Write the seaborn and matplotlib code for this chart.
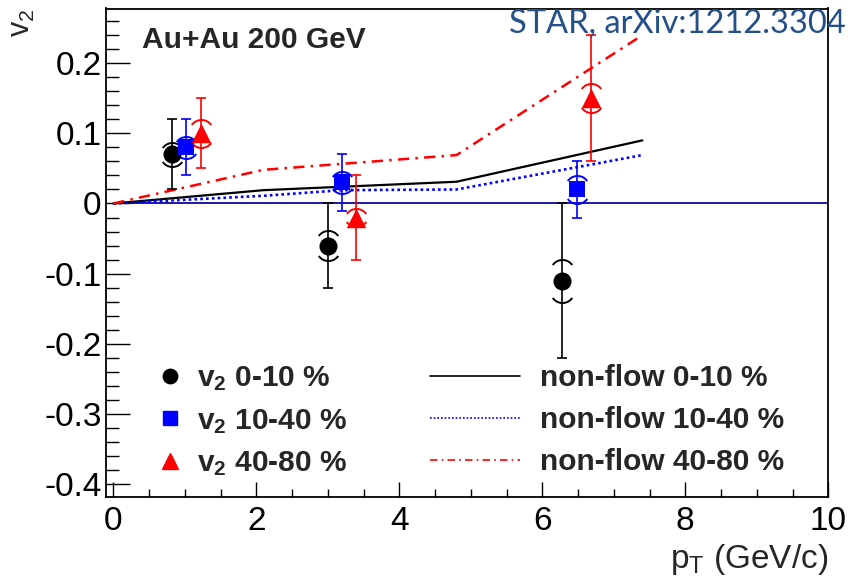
import numpy as np
import pandas as pd
import matplotlib
matplotlib.use("Agg")
import matplotlib.pyplot as plt
from matplotlib.path import Path
from matplotlib.lines import Line2D
from matplotlib.ticker import MultipleLocator
import seaborn as sns

# ---- v2 measurements, three centrality classes ----
pt_0_10 = [0.82, 3.00, 6.28]
v2_0_10 = [0.07, -0.06, -0.11]
stat_0_10 = [0.05, 0.06, 0.11]
sys_0_10 = [0.013, 0.018, 0.027]

pt_10_40 = [1.02, 3.20, 6.48]
v2_10_40 = [0.08, 0.03, 0.02]
stat_10_40 = [0.04, 0.04, 0.04]
sys_10_40 = [0.012, 0.012, 0.017]

pt_40_80 = [1.22, 3.40, 6.68]
v2_40_80 = [0.10, -0.02, 0.15]
stat_40_80 = [0.05, 0.06, 0.09]
sys_40_80 = [0.016, 0.009, 0.017]

# ---- non-flow estimates ----
nf_pt_0_10 = [0.0, 2.1, 4.8, 7.4]
nf_0_10 = [0.0, 0.019, 0.031, 0.090]
nf_pt_10_40 = [0.0, 2.1, 3.2, 4.8, 7.4]
nf_10_40 = [0.0, 0.011, 0.019, 0.020, 0.069]
nf_pt_40_80 = [0.0, 2.1, 4.8, 7.4]
nf_40_80 = [0.0, 0.048, 0.069, 0.240]

labels_v2 = [r"v$_\mathbf{2}$ 0-10 %", r"v$_\mathbf{2}$ 10-40 %", r"v$_\mathbf{2}$ 40-80 %"]
labels_nf = ["non-flow 0-10 %", "non-flow 10-40 %", "non-flow 40-80 %"]

sns.set_theme(style="ticks")
plt.rcParams["font.family"] = ["Liberation Sans", "DejaVu Sans"]
plt.rcParams["mathtext.fontset"] = "custom"
plt.rcParams["mathtext.rm"] = "Liberation Sans"
plt.rcParams["mathtext.it"] = "Liberation Sans:italic"
plt.rcParams["mathtext.bf"] = "Liberation Sans:bold"

W, H = 848, 580
fig = plt.figure(figsize=(W / 100, H / 100), dpi=100)
ax = fig.add_axes([105.7 / W, 1 - 496.7 / H, (828.3 - 105.7) / W, (496.7 - 8.5) / H])

colors = ["#000000", "#0000ff", "#ff0000"]
shapes = ["o", "s", "^"]
msizes = [13, 12, 14]

# systematic brackets: shallow arcs above and below each point
arc = Path.arc(35, 145)
av = arc.vertices.copy()
av[:, 1] -= (av[:, 1].max() + av[:, 1].min()) / 2
top_br = Path(av, arc.codes)
bot_br = Path(av * np.array([1, -1]), arc.codes)

# zero reference line
ax.hlines(0, 0, 10, color="#0a0a96", lw=1.3, zorder=1)

# non-flow curves
nf_style = [("-", 1.6), ((0, (1.0, 1.2)), 1.9), ((0, (4.5, 2.5, 1, 2.5)), 1.8)]
for x, y, c, (ls, lw) in zip([nf_pt_0_10, nf_pt_10_40, nf_pt_40_80],
                             [nf_0_10, nf_10_40, nf_40_80], colors, nf_style):
    sns.lineplot(x=x, y=y, ax=ax, color=c, lw=lw, linestyle=ls,
                 estimator=None, sort=False, zorder=2)

series = [
    (pt_0_10, v2_0_10, stat_0_10, sys_0_10),
    (pt_10_40, v2_10_40, stat_10_40, sys_10_40),
    (pt_40_80, v2_40_80, stat_40_80, sys_40_80),
]
for (x, y, e, s), c, m, ms in zip(series, colors, shapes, msizes):
    ax.errorbar(x, y, yerr=e, fmt="none", ecolor=c, elinewidth=1.2,
                capsize=3.6, capthick=1.2, zorder=3)
    ax.plot(x, np.add(y, s), ls="none", marker=top_br, ms=14, mfc="none",
            mec=c, mew=1.4, zorder=3)
    ax.plot(x, np.subtract(y, s), ls="none", marker=bot_br, ms=14, mfc="none",
            mec=c, mew=1.4, zorder=3)
    df = pd.DataFrame({"pt": x, "v2": y})
    sns.scatterplot(data=df, x="pt", y="v2", ax=ax, color=c, marker=m,
                    s=ms ** 2, edgecolor=c, linewidth=0, zorder=4, legend=False)

ax.set_xlim(-0.106, 10)
ax.set_ylim(-0.418, 0.278)
ax.xaxis.set_major_locator(MultipleLocator(2))
ax.xaxis.set_minor_locator(MultipleLocator(0.5))
ax.yaxis.set_major_locator(MultipleLocator(0.1))
ax.yaxis.set_minor_locator(MultipleLocator(0.02))
ax.yaxis.set_major_formatter(matplotlib.ticker.FuncFormatter(
    lambda v, p: "0" if abs(v) < 1e-9 else f"{v:.1f}"))
ax.tick_params(axis="both", which="both", direction="in", top=False, right=False,
               labelsize=24, colors="black", width=1.0)
ax.tick_params(axis="y", which="major", length=17, pad=3)
ax.tick_params(axis="y", which="minor", length=9.4)
ax.tick_params(axis="x", which="major", length=10.8, pad=7)
ax.tick_params(axis="x", which="minor", length=6)
for sp in ax.spines.values():
    sp.set_visible(True)
    sp.set_linewidth(1.3)
    sp.set_color("black")
ax.set_xlabel("")
ax.set_ylabel("")

# axis titles
fig.text(22 / W, 1 - 23 / H, r"v$_2$", rotation=90, ha="center", va="center",
         fontsize=22)
fig.text(828 / W, 1 - 568 / H, r"p$_\mathrm{T}$ (GeV/c)", ha="right", va="baseline",
         fontsize=24)

# headers
fig.text(142 / W, 1 - 48 / H, "Au+Au 200 GeV", fontsize=21.5, fontweight="bold",
         ha="left", va="baseline")
fig.text(846 / W, 1 - 33 / H, "STAR, arXiv:1212.3304", fontsize=23.5,
         family=["Lato", "DejaVu Sans"], color="#24508a", ha="right", va="baseline")

# legends
h_v2 = [Line2D([], [], ls="none", marker=m, color=c, mec=c, ms=ms * 0.8)
        for m, c, ms in zip(shapes, colors, msizes)]
h_nf = [Line2D([], [], color=c, lw=1.2, linestyle=ls)
        for c, (ls, _) in zip(colors, nf_style)]
prop = {"size": 21.5, "weight": "bold"}
leg1 = ax.legend(h_v2, labels_v2, loc="upper left",
                 bbox_to_anchor=(155 / W, 1 - 364 / H), bbox_transform=fig.transFigure,
                 frameon=False, prop=prop, handlelength=1.0, handletextpad=0.4,
                 borderpad=0, borderaxespad=0, labelspacing=0.47)
ax.add_artist(leg1)
ax.legend(h_nf, labels_nf, loc="upper left",
          bbox_to_anchor=(430 / W, 1 - 364 / H), bbox_transform=fig.transFigure,
          frameon=False, prop=prop, handlelength=3.0, handletextpad=0.67,
          borderpad=0, borderaxespad=0, labelspacing=0.47)

fig.savefig("out.png", dpi=100)
